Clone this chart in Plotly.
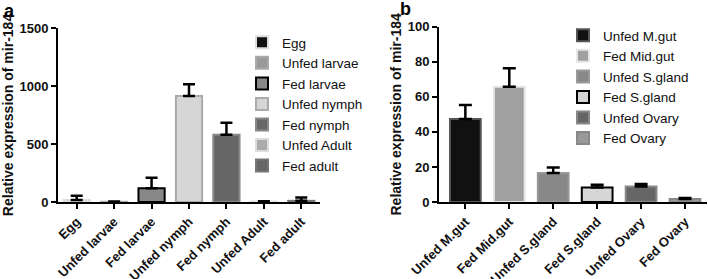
import plotly.graph_objects as go

# Panel a data
cats_a = ["Egg", "Unfed larvae", "Fed larvae", "Unfed nymph", "Fed nymph", "Unfed Adult", "Fed adult"]
vals_a = [17, 2, 118, 914, 580, 3, 10]
err_a = [37, 2, 92, 101, 104, 4, 28]
fill_a = ["#111111", "#999999", "#888888", "#d6d6d6", "#666666", "#aaaaaa", "#666666"]
line_a = ["#dddddd", "#aaaaaa", "#000000", "#aaaaaa", "#888888", "#dddddd", "#777777"]

# Panel b data
cats_b = ["Unfed M.gut", "Fed Mid.gut", "Unfed S.gland", "Fed S.gland", "Unfed Ovary", "Fed Ovary"]
vals_b = [47.3, 65.8, 16.5, 8.3, 8.9, 1.7]
err_b = [8.1, 10.5, 3.2, 1.5, 1.3, 0.6]
fill_b = ["#111111", "#a0a0a0", "#888888", "#d6d6d6", "#666666", "#999999"]
line_b = ["#555555", "#e6e6e6", "#999999", "#000000", "#888888", "#888888"]

W, H = 708, 279
FONT = "Liberation Sans, Arial, sans-serif"

fig = go.Figure()

for c, v, e, f, l in zip(cats_a, vals_a, err_a, fill_a, line_a):
    fig.add_trace(go.Bar(
        x=[c], y=[v], name=c, width=0.7, xaxis="x", yaxis="y", legend="legend",
        marker=dict(color=f, line=dict(color=l, width=2)),
        error_y=dict(type="data", symmetric=False, array=[e], arrayminus=[0],
                     color="#000000", thickness=2.5, width=6),
    ))

for c, v, e, f, l in zip(cats_b, vals_b, err_b, fill_b, line_b):
    fig.add_trace(go.Bar(
        x=[c], y=[v], name=c, width=0.7, xaxis="x2", yaxis="y2", legend="legend2",
        marker=dict(color=f, line=dict(color=l, width=2)),
        error_y=dict(type="data", symmetric=False, array=[e], arrayminus=[0],
                     color="#000000", thickness=2.5, width=6.5),
    ))

axis_common = dict(showline=True, linecolor="#000000", linewidth=2, ticks="outside",
                   ticklen=5, tickwidth=2, tickcolor="#000000", showgrid=False,
                   zeroline=False, automargin=False)

fig.update_layout(
    width=W, height=H,
    margin=dict(l=0, r=0, t=0, b=0, autoexpand=False),
    paper_bgcolor="white", plot_bgcolor="white",
    barmode="overlay",
    font=dict(family=FONT, color="#111111"),
    xaxis=dict(domain=[58 / W, 320 / W], anchor="y", type="category",
               categoryorder="array", categoryarray=cats_a, range=[-0.5, 6.5],
               tickangle=-45, tickfont=dict(size=13, family=FONT, weight="bold"), **axis_common),
    yaxis=dict(domain=[77 / H, 251 / H], anchor="x", range=[0, 1500],
               tickvals=[0, 500, 1000, 1500], tickfont=dict(size=13, family=FONT, weight="bold"),
               title=dict(text="Relative expression of mir-184", standoff=3,
                          font=dict(size=14, family=FONT, weight="bold")),
               **axis_common),
    xaxis2=dict(domain=[439 / W, 707 / W], anchor="y2", type="category",
                categoryorder="array", categoryarray=cats_b, range=[-0.6, 5.5],
                tickangle=-45, tickfont=dict(size=13, family=FONT, weight="bold"), **axis_common),
    yaxis2=dict(domain=[77 / H, 252.3 / H], anchor="x2", range=[0, 100],
                tickvals=[0, 20, 40, 60, 80, 100], tickfont=dict(size=13, family=FONT, weight="bold"),
                title=dict(text="Relative expression of mir-184", standoff=3,
                           font=dict(size=14, family=FONT, weight="bold")),
                **axis_common),
    legend=dict(x=242 / W, y=(H - 27) / H, xanchor="left", yanchor="top",
                font=dict(size=13.5, family=FONT), bgcolor="rgba(0,0,0,0)"),
    legend2=dict(x=563 / W, y=(H - 20) / H, xanchor="left", yanchor="top",
                 font=dict(size=13.5, family=FONT), bgcolor="rgba(0,0,0,0)"),
    showlegend=True,
    annotations=[
        dict(text="a", x=2 / W, y=1 - 11 / H, xref="paper", yref="paper",
             xanchor="left", yanchor="middle", showarrow=False,
             font=dict(size=18, family=FONT, weight="bold", color="#000000")),
        dict(text="b", x=398 / W, y=1 - 9 / H, xref="paper", yref="paper",
             xanchor="left", yanchor="middle", showarrow=False,
             font=dict(size=18, family=FONT, weight="bold", color="#000000")),
    ],
)

fig.write_html("out.html", config={"displayModeBar": False},
               post_script="document.body.style.margin='0';")
